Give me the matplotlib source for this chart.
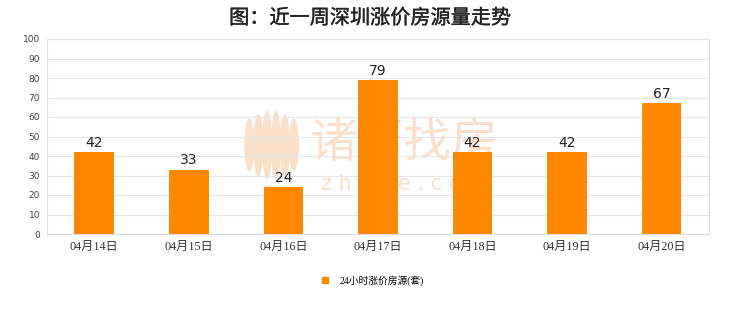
import numpy as np
import matplotlib.pyplot as plt
import matplotlib.patheffects as pe
from matplotlib.lines import Line2D
from matplotlib.patches import Ellipse

dates = ['04月14日', '04月15日', '04月16日', '04月17日', '04月18日', '04月19日', '04月20日']
counts = [42, 33, 24, 79, 42, 42, 67]
yticks = [0, 10, 20, 30, 40, 50, 60, 70, 80, 90, 100]
title = '图：近一周深圳涨价房源量走势'
series_name = '24小时涨价房源(套)'

plt.rcParams['font.family'] = ['Noto Sans CJK SC', 'DejaVu Sans']

fig = plt.figure(figsize=(7.4, 3.12), dpi=100)
ax = fig.add_axes([0.0635, 0.25, 0.8945, 0.625])

x = np.arange(len(dates))
ax.bar(x, counts, width=0.42, color='#ff8800', zorder=3)
for xi, v in zip(x, counts):
    ax.text(xi, v + 1.2, str(v), ha='center', va='bottom', fontsize=10,
            color='#222222', family=['DejaVu Sans'], zorder=4)

ax.set_xlim(-0.5, len(dates) - 0.5)
ax.set_ylim(0, 100)
ax.set_yticks(yticks)
ax.set_yticklabels([str(t) for t in yticks], fontsize=6.5, color='#444444',
                   family=['DejaVu Sans'])
ax.set_xticks(x)
ax.set_xticklabels(dates, fontsize=8.7, color='#333333',
                   family=['Liberation Serif', 'Noto Sans CJK SC'])
ax.tick_params(axis='both', length=0, pad=5)
ax.grid(axis='y', color='#e6e6e6', linewidth=0.8, zorder=2)
ax.set_axisbelow(False)
for s in ax.spines.values():
    s.set_color('#dddddd')
    s.set_linewidth(0.8)

# watermark behind the bars
wm = '#f9e0ca'
tf = fig.transFigure
ax.text(0.547, 0.54, '诸葛找房', fontsize=34, color=wm, ha='center', va='center',
        transform=tf, zorder=1)
ax.text(0.547, 0.41, 'z h u g e . c o m', fontsize=15, color=wm, ha='center',
        va='center', transform=tf, zorder=1, family=['DejaVu Sans'])
# lotus-like logo
for dx, h in [(-0.030, 0.17), (-0.018, 0.20), (-0.006, 0.22), (0.006, 0.22),
              (0.018, 0.20), (0.030, 0.17)]:
    ax.add_patch(Ellipse((0.367 + dx, 0.535), 0.014, h, transform=tf,
                         facecolor=wm, edgecolor='none', zorder=1, clip_on=False))

t = fig.suptitle(title, x=0.5, y=0.975, fontsize=14.5, color='#222222')
t.set_path_effects([pe.withStroke(linewidth=0.25, foreground='#222222')])

handle = Line2D([], [], marker='s', linestyle='none', color='#ff8800', markersize=5)
fig.legend([handle], [series_name], loc='center', bbox_to_anchor=(0.5, 0.1),
           frameon=False, handletextpad=0.5,
           prop={'family': ['Liberation Serif', 'Noto Sans CJK SC'], 'size': 7})

fig.savefig('out.png', dpi=100)
